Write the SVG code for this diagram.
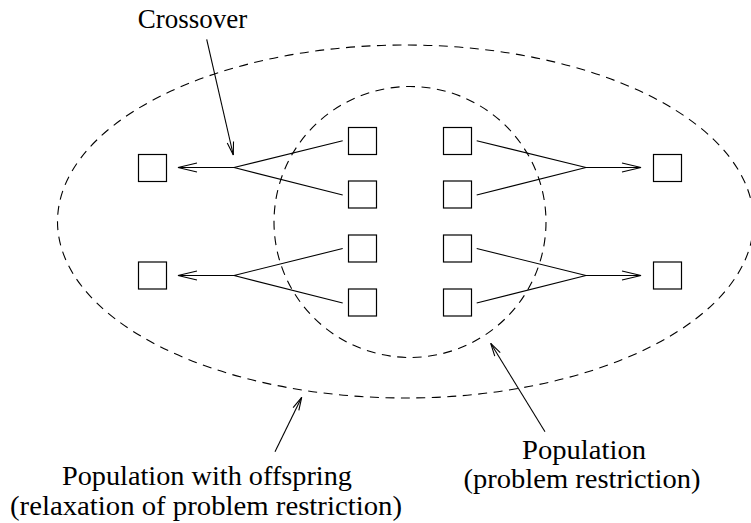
<svg xmlns="http://www.w3.org/2000/svg" width="751" height="523" viewBox="0 0 751 523">
<style>
.box{fill:none;stroke:#000;stroke-width:1.2}
.ln{fill:none;stroke:#000;stroke-width:1.1}
.dash{fill:none;stroke:#000;stroke-width:1.1;stroke-dasharray:9 6.5}
.lbl{font-size:27px;fill:#000;text-anchor:middle}
</style>
<defs>
<marker id="open" markerUnits="userSpaceOnUse" markerWidth="24" markerHeight="14" viewBox="-21 -7 24 14" refX="0" refY="0" orient="auto" overflow="visible">
<path d="M -19 -4.5 L 0 0 L -19 4.5" fill="none" stroke="#000" stroke-width="1.1"/>
</marker>
<marker id="narrow" markerUnits="userSpaceOnUse" markerWidth="16" markerHeight="10" viewBox="-14 -5 16 10" refX="0" refY="0" orient="auto" overflow="visible">
<path d="M -13 -3.2 L 0 0 L -13 3.2" fill="none" stroke="#000" stroke-width="1.1"/>
</marker>
</defs>

<g id="regions">
<ellipse id="outer" class="dash" cx="405.5" cy="221.5" rx="348" ry="176.5"/>
<ellipse id="inner" class="dash" cx="410" cy="222" rx="136" ry="135.5"/>
</g>

<g id="connectors">
<path class="ln" d="M 342.7 140.7 L 234 167.5 L 342.7 195"/>
<path class="ln" d="M 234 167.5 L 178 167.5" marker-end="url(#open)"/>
<path class="ln" d="M 342.7 248.5 L 234 275.5 L 342.7 303"/>
<path class="ln" d="M 234 275.5 L 178 275.5" marker-end="url(#open)"/>
<path class="ln" d="M 476.7 140.7 L 586 167.5 L 476.7 195"/>
<path class="ln" d="M 586 167.5 L 641 167.5" marker-end="url(#open)"/>
<path class="ln" d="M 476.7 248.5 L 586 275.5 L 476.7 303"/>
<path class="ln" d="M 586 275.5 L 641 275.5" marker-end="url(#open)"/>
<path class="ln" d="M 206.7 39.3 L 233.3 155" marker-end="url(#narrow)"/>
<path class="ln" d="M 275 451.7 L 301.7 397.3" marker-end="url(#narrow)"/>
<path class="ln" d="M 545 431.7 L 490.7 343.3" marker-end="url(#narrow)"/>
</g>

<g id="n-l1"><rect class="box" x="138.5" y="154.5" width="28" height="27"/></g>
<g id="n-l2"><rect class="box" x="138.5" y="262" width="28" height="27"/></g>
<g id="n-m1"><rect class="box" x="348.5" y="127.5" width="28" height="27"/></g>
<g id="n-m2"><rect class="box" x="348.5" y="181" width="28" height="27"/></g>
<g id="n-m3"><rect class="box" x="348.5" y="235" width="28" height="27"/></g>
<g id="n-m4"><rect class="box" x="348.5" y="289" width="28" height="27"/></g>
<g id="n-n1"><rect class="box" x="443.5" y="127.5" width="28" height="27"/></g>
<g id="n-n2"><rect class="box" x="443.5" y="181" width="28" height="27"/></g>
<g id="n-n3"><rect class="box" x="443.5" y="235" width="28" height="27"/></g>
<g id="n-n4"><rect class="box" x="443.5" y="289" width="28" height="27"/></g>
<g id="n-r1"><rect class="box" x="653.5" y="154.5" width="28" height="27"/></g>
<g id="n-r2"><rect class="box" x="653.5" y="262" width="28" height="27"/></g>

<g id="labels" font-family="'Liberation Serif', 'DejaVu Serif', 'Times New Roman', serif">
<text class="lbl" x="192.5" y="28">Crossover</text>
<text class="lbl" x="207" y="485" textLength="290" lengthAdjust="spacingAndGlyphs">Population with offspring</text>
<text class="lbl" x="206" y="515" textLength="392" lengthAdjust="spacingAndGlyphs">(relaxation of problem restriction)</text>
<text class="lbl" x="584" y="459" textLength="124" lengthAdjust="spacingAndGlyphs">Population</text>
<text class="lbl" x="582" y="488" textLength="237" lengthAdjust="spacingAndGlyphs">(problem restriction)</text>
</g>
</svg>
